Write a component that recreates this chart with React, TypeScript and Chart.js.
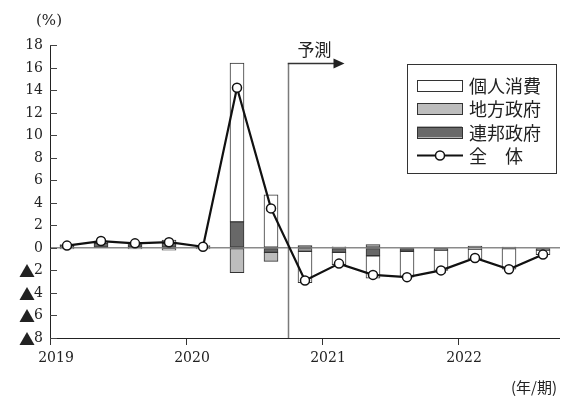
import React, { useEffect, useRef } from 'react';
import { Chart, registerables } from 'chart.js';

Chart.register(...registerables);

// ---- data ----
const quarterLabels = [
  '2019Q1', '2019Q2', '2019Q3', '2019Q4',
  '2020Q1', '2020Q2', '2020Q3', '2020Q4',
  '2021Q1', '2021Q2', '2021Q3', '2021Q4',
  '2022Q1', '2022Q2', '2022Q3',
];
const yearLabels = ['2019', '2020', '2021', '2022'];
const yearStartIndex = [0, 4, 8, 12];
const forecastStartIndex = 7;

const personal = [0.1, 0.2, 0.2, 0.3, 0.1, 14.1, 4.7, -2.8, -1.1, -2.0, -2.3, -1.8, -0.9, -1.9, -0.4];
const local = [-0.1, 0.0, -0.1, -0.2, -0.1, -2.2, -0.8, -0.3, 0.1, 0.3, 0.0, 0.0, -0.1, 0.0, 0.0];
const federal = [0.2, 0.4, 0.3, 0.4, 0.1, 2.3, -0.4, 0.2, -0.4, -0.7, -0.3, -0.2, 0.15, 0.05, -0.2];
const total = [0.2, 0.6, 0.4, 0.5, 0.1, 14.2, 3.5, -2.9, -1.4, -2.4, -2.6, -2.0, -0.9, -1.9, -0.6];

const yMin = -8;
const yMax = 18;
const yStep = 2;

const namePersonal = '個人消費';
const nameLocal = '地方政府';
const nameFederal = '連邦政府';
const nameTotal = '全　体';
const forecastText = '予測';
const yUnit = '(%)';
const xUnit = '(年/期)';
const negativeMark = '▲';

// ---- styles ----
const colorPersonal = '#ffffff';
const colorLocal = '#bdbdbd';
const colorFederal = '#686868';
const colorBorder = '#333333';
const serif = "'DejaVu Serif', 'Liberation Serif', serif";
const cjk = "'Noto Sans CJK JP', sans-serif";

const toPoints = (arr: number[]) => arr.map((y, i) => ({ x: i + 0.5, y }));

const decorPlugin = {
  id: 'decor',
  beforeDatasetsDraw(chart: any) {
    const { ctx, chartArea: a, scales } = chart;
    const x = scales.x;
    const y = scales.y;
    ctx.save();
    // axis lines
    ctx.strokeStyle = '#222';
    ctx.lineWidth = 1;
    ctx.beginPath();
    ctx.moveTo(a.left + 0.5, a.top);
    ctx.lineTo(a.left + 0.5, a.bottom + 0.5);
    ctx.lineTo(a.right, a.bottom + 0.5);
    ctx.stroke();
    // inward y ticks + labels
    ctx.strokeStyle = '#444';
    y.ticks.forEach((t: any) => {
      const py = Math.round(y.getPixelForValue(t.value)) + 0.5;
      ctx.beginPath();
      ctx.moveTo(a.left, py);
      ctx.lineTo(a.left + 7, py);
      ctx.stroke();
      const v = Number(t.value);
      const txt = String(Math.abs(v));
      ctx.fillStyle = '#222';
      ctx.font = `14px ${serif}`;
      ctx.textAlign = 'right';
      ctx.textBaseline = 'middle';
      const rx = a.left - 7;
      ctx.fillText(txt, rx, py);
      if (v < 0) {
        const w = ctx.measureText(txt).width;
        ctx.font = `16px ${cjk}`;
        ctx.fillText(negativeMark, rx - w + 1, py);
      }
    });
    // forecast marker
    const fx = Math.round(x.getPixelForValue(forecastStartIndex)) + 0.5;
    const top = a.top + 18.5;
    ctx.strokeStyle = '#7a7a7a';
    ctx.lineWidth = 1.5;
    ctx.beginPath();
    ctx.moveTo(fx, a.bottom);
    ctx.lineTo(fx, top);
    ctx.stroke();
    ctx.strokeStyle = '#333';
    ctx.beginPath();
    ctx.moveTo(fx - 0.75, top);
    ctx.lineTo(fx + 47, top);
    ctx.stroke();
    ctx.fillStyle = '#222';
    ctx.beginPath();
    ctx.moveTo(fx + 45, top - 5);
    ctx.lineTo(fx + 56, top);
    ctx.lineTo(fx + 45, top + 5);
    ctx.closePath();
    ctx.fill();
    ctx.font = `17px ${cjk}`;
    ctx.textAlign = 'center';
    ctx.textBaseline = 'middle';
    ctx.fillStyle = '#222';
    ctx.fillText(forecastText, fx + 26, top - 14);
    ctx.restore();
  },
  afterDraw(chart: any) {
    const { ctx, chartArea: a } = chart;
    ctx.save();
    // unit labels
    ctx.fillStyle = '#222';
    ctx.font = `15px ${serif}`;
    ctx.textBaseline = 'middle';
    ctx.textAlign = 'center';
    ctx.fillText(yUnit, 49, 21);
    ctx.font = `15px ${cjk}`;
    ctx.textAlign = 'right';
    ctx.fillText(xUnit, a.right - 3, 387);

    // legend
    const lw = 149;
    const lh = 109;
    const lx = a.right - 153;
    const ly = a.top + 19;
    ctx.fillStyle = '#fff';
    ctx.fillRect(lx, ly, lw, lh);
    ctx.strokeStyle = '#333';
    ctx.lineWidth = 1;
    ctx.strokeRect(lx + 0.5, ly + 0.5, lw, lh);
    const rows = [
      { label: namePersonal, fill: colorPersonal, kind: 'box' },
      { label: nameLocal, fill: colorLocal, kind: 'box' },
      { label: nameFederal, fill: colorFederal, kind: 'box' },
      { label: nameTotal, fill: '', kind: 'line' },
    ];
    rows.forEach((r, i) => {
      const cy = ly + 21 + i * 23.5;
      const sx = lx + 10;
      if (r.kind === 'box') {
        ctx.fillStyle = r.fill;
        ctx.fillRect(sx, cy - 5.5, 45, 11);
        ctx.strokeStyle = colorBorder;
        ctx.lineWidth = 1;
        ctx.strokeRect(sx + 0.5, Math.round(cy - 5.5) + 0.5, 45, 11);
      } else {
        ctx.strokeStyle = '#111';
        ctx.lineWidth = 2;
        ctx.beginPath();
        ctx.moveTo(sx, cy);
        ctx.lineTo(sx + 46, cy);
        ctx.stroke();
        ctx.fillStyle = '#fff';
        ctx.lineWidth = 1.5;
        ctx.beginPath();
        ctx.arc(sx + 23, cy, 4.5, 0, Math.PI * 2);
        ctx.fill();
        ctx.stroke();
      }
      ctx.fillStyle = '#222';
      ctx.font = `18px ${cjk}`;
      ctx.textAlign = 'left';
      ctx.textBaseline = 'middle';
      ctx.fillText(r.label, lx + 62, cy + 1);
    });
    ctx.restore();
  },
};

export default function App() {
  const canvasRef = useRef<HTMLCanvasElement | null>(null);

  useEffect(() => {
    const canvas = canvasRef.current;
    if (!canvas) return;
    const barCommon = {
      type: 'bar' as const,
      xAxisID: 'x',
      yAxisID: 'y',
      borderColor: colorBorder,
      borderWidth: 1,
      borderSkipped: false,
      barThickness: 14,
    };
    const chart = new Chart(canvas, {
      type: 'bar',
      data: {
        labels: quarterLabels,
        datasets: [
          {
            type: 'line',
            label: nameTotal,
            data: toPoints(total),
            xAxisID: 'x',
            yAxisID: 'y2',
            borderColor: '#111',
            borderWidth: 2.2,
            pointRadius: 4.5,
            pointBackgroundColor: '#fff',
            pointBorderColor: '#111',
            pointBorderWidth: 1.5,
            tension: 0,
            fill: false,
          } as any,
          { ...barCommon, label: nameFederal, data: toPoints(federal), backgroundColor: colorFederal } as any,
          { ...barCommon, label: nameLocal, data: toPoints(local), backgroundColor: colorLocal } as any,
          { ...barCommon, label: namePersonal, data: toPoints(personal), backgroundColor: colorPersonal } as any,
        ],
      },
      options: {
        animation: false,
        responsive: false,
        maintainAspectRatio: false,
        devicePixelRatio: 1,
        layout: { padding: { top: 45, right: 10, left: 0, bottom: 0 } },
        plugins: {
          legend: { display: false },
          tooltip: { enabled: false },
        },
        scales: {
          x: {
            type: 'linear',
            min: 0,
            max: quarterLabels.length,
            offset: false,
            stacked: true,
            afterBuildTicks: (s: any) => {
              s.ticks = yearStartIndex.map((v) => ({ value: v }));
            },
            afterFit: (s: any) => {
              s.height = 58;
            },
            ticks: {
              callback: (v: any) => {
                const k = yearStartIndex.indexOf(Number(v));
                return k >= 0 ? yearLabels[k] : '';
              },
              font: { family: serif, size: 14 },
              color: '#222',
              padding: 5,
              labelOffset: 6,
              maxRotation: 0,
              autoSkip: false,
            },
            grid: {
              offset: false,
              color: 'transparent',
              drawOnChartArea: false,
              drawTicks: true,
              tickLength: 7,
              tickColor: '#333',
            },
            border: { display: false },
          },
          y: {
            type: 'linear',
            min: yMin,
            max: yMax,
            stacked: true,
            afterFit: (s: any) => {
              s.width = 50;
            },
            ticks: {
              stepSize: yStep,
              display: false,
            },
            grid: {
              drawTicks: false,
              color: (c: any) => (c.tick && c.tick.value === 0 ? '#8a8a8a' : 'transparent'),
              lineWidth: 1.5,
            },
            border: { display: false },
          },
          y2: {
            type: 'linear',
            display: false,
            min: yMin,
            max: yMax,
            stacked: false,
          },
        },
      } as any,
      plugins: [decorPlugin],
    });
    return () => chart.destroy();
  }, []);

  return (
    <div style={{ position: 'fixed', left: 0, top: 0, width: 570, height: 396, background: '#fff' }}>
      <canvas ref={canvasRef} width={570} height={396} />
    </div>
  );
}
